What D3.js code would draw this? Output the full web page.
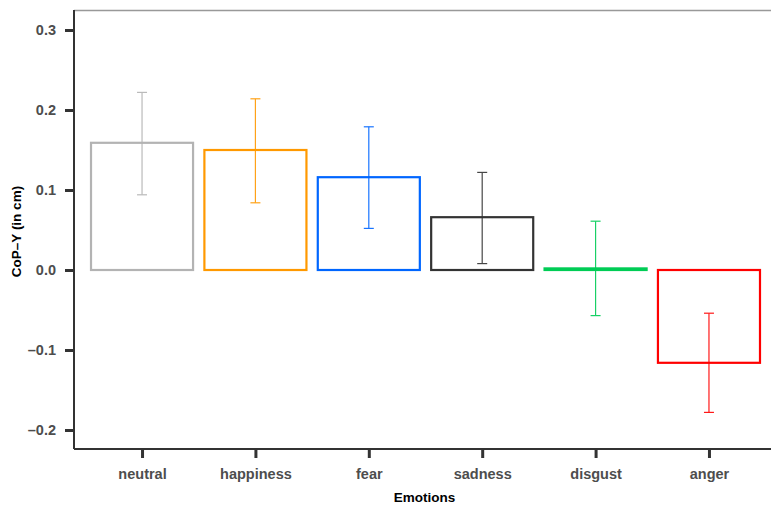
<!DOCTYPE html>
<html><head><meta charset="utf-8">
<script src="https://cdn.jsdelivr.net/npm/d3@7"></script>
<style>body{margin:0;background:#fff}svg{display:block}text{font-family:"Liberation Sans",Arial,sans-serif}</style>
</head><body>
<script>
const categories = ["neutral","happiness","fear","sadness","disgust","anger"];
const means = [0.159, 0.150, 0.116, 0.066, 0.002, -0.116];
const upper = [0.222, 0.214, 0.179, 0.122, 0.061, -0.054];
const lower = [0.094, 0.084, 0.052, 0.008, -0.057, -0.178];
const colors = ["#b3b3b3","#ff9900","#0066ff","#333333","#00cc55","#ff0000"];
const yTicks = [-0.2,-0.1,0.0,0.1,0.2,0.3];

(function(){
const W = 771, H = 512;
const svg = d3.select("body").append("svg").attr("width", W).attr("height", H);
const pL = 74, pT = 10, pB = 449, pR = 777;
const x = d3.scalePoint().domain(categories).range([pL, pR]).padding(0.6);
const step = x.step();
const y = d3.scaleLinear().domain([-0.22375, 0.325]).range([pB, pT]);

svg.append("line").attr("x1", pL).attr("x2", W).attr("y1", pT+0.5).attr("y2", pT+0.5)
  .attr("stroke", "#999").attr("stroke-width", 1.5);

const data = categories.map((c,i)=>({c, m:means[i], u:upper[i], l:lower[i], col:colors[i]}));
const bw = step*0.9;
svg.selectAll("rect.bar").data(data).enter().append("rect")
  .attr("x", d=>x(d.c)-bw/2).attr("width", bw)
  .attr("y", d=>y(Math.max(0,d.m))).attr("height", d=>Math.abs(y(d.m)-y(0)))
  .attr("fill", "white").attr("stroke", d=>d.col).attr("stroke-width", 2.2);

const eg = svg.selectAll("g.err").data(data).enter().append("g").attr("stroke", d=>d.col).attr("stroke-width", 1.2).attr("opacity", 0.9);
eg.append("line").attr("x1", d=>x(d.c)).attr("x2", d=>x(d.c)).attr("y1", d=>y(d.u)).attr("y2", d=>y(d.l));
eg.append("line").attr("x1", d=>x(d.c)-5).attr("x2", d=>x(d.c)+5).attr("y1", d=>y(d.u)).attr("y2", d=>y(d.u));
eg.append("line").attr("x1", d=>x(d.c)-5).attr("x2", d=>x(d.c)+5).attr("y1", d=>y(d.l)).attr("y2", d=>y(d.l));

const yAxis = d3.axisLeft(y).tickValues(yTicks).tickFormat(d3.format(".1f")).tickSize(9).tickPadding(9);
const gy = svg.append("g").attr("transform", `translate(${pL},0)`).call(yAxis);
gy.select(".domain").attr("d", `M0,${pT}V${pB}`).attr("stroke", "#333").attr("stroke-width", 2);
gy.selectAll(".tick line").attr("stroke", "#333").attr("stroke-width", 3);
gy.selectAll(".tick text").attr("font-size", 14.5).attr("font-weight", "bold").attr("fill", "#4d4d4d")
  .text(d => d < 0 ? "\u2013" + Math.abs(d).toFixed(1) : d.toFixed(1));

const xAxis = d3.axisBottom(x).tickSize(9).tickPadding(11);
const gx = svg.append("g").attr("transform", `translate(0,${pB})`).call(xAxis);
gx.select(".domain").attr("d", `M${pL},0H${W}`).attr("stroke", "#333").attr("stroke-width", 2);
gx.selectAll(".tick line").attr("stroke", "#333").attr("stroke-width", 3);
gx.selectAll(".tick text").attr("font-size", 14.5).attr("font-weight", "bold").attr("fill", "#4d4d4d");

svg.append("text").attr("x", (pL+pR)/2 - 1).attr("y", 502).attr("text-anchor", "middle")
  .attr("font-size", 13.5).attr("font-weight", "bold").attr("fill", "#000").text("Emotions");
svg.append("text").attr("transform", `translate(21,${(pT+pB)/2 + 2}) rotate(-90)`).attr("text-anchor", "middle")
  .attr("font-size", 13.5).attr("font-weight", "bold").attr("fill", "#000").text("CoP\u2013Y (in cm)");
})();
</script>
</body></html>
